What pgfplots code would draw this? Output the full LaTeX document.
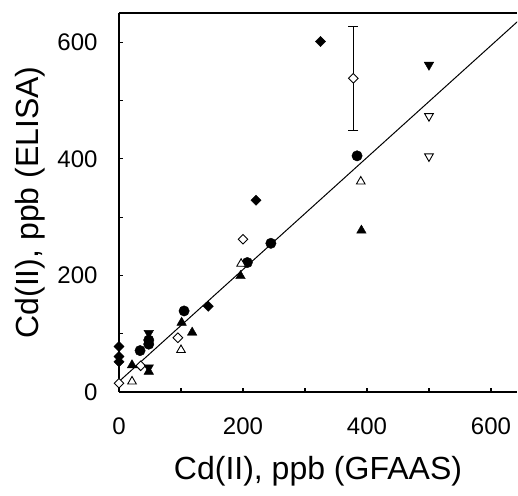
\documentclass[border=0pt]{standalone}
\usepackage{fontspec}
\setmainfont{Liberation Sans}
\usepackage{pgfplots}
\pgfplotsset{compat=1.18}

\begin{document}
\begin{tikzpicture}
\begin{axis}[
	name=ax,
	scale only axis,
	width=398bp, height=379bp,
	xmin=0, xmax=642, ymin=0, ymax=650,
	axis x line*=box, axis y line*=left,
	xtick={0,100,...,600}, xticklabels={0,,200,,400,,600},
	ytick={0,100,...,600}, yticklabels={0,,200,,400,,600},
	xtick pos=bottom, ytick pos=left,
	tick align=inside,
	major tick length=4bp,
	tick style={line width=1.1bp, black},
	axis line style={line width=1.3bp, black},
	tick label style={font=\fontsize{24bp}{28bp}\selectfont},
	label style={font=\fontsize{32bp}{36bp}\selectfont},
	xticklabel style={yshift=-22bp},
	yticklabel style={xshift=-18bp},
	xlabel={Cd(II), ppb (GFAAS)},
	ylabel={Cd(II), ppb (ELISA)},
	xlabel style={yshift=-15bp},
	ylabel style={yshift=5bp},
	clip=true,
]
% regression line
\addplot[black, line width=1bp, no marks] coordinates {(0,18) (680,671)};

% filled diamonds
\addplot[only marks, mark=square*, mark size=3.6bp, black,
	mark options={fill=black, rotate=45}]
	coordinates {(0,78) (0,61) (0,52) (144,147) (221,329) (325,601)};
% open diamonds
\addplot[only marks, mark=square*, mark size=3.4bp, black, line width=0.9bp,
	mark options={fill=white, rotate=45}]
	coordinates {(0,15) (35,45) (95,93) (200,262)};
\addplot[only marks, mark=square*, mark size=3.4bp, black, line width=0.9bp,
	mark options={fill=white, rotate=45},
	error bars/.cd, y dir=both, y explicit,
	error bar style={line width=1.1bp},
	error mark options={rotate=90, mark size=5bp, line width=1.1bp}]
	coordinates {(378,538) +- (0,89)};
% filled circles
\addplot[only marks, mark=*, mark size=5.2bp, black]
	coordinates {(34,71) (48,82) (48,89) (105,139) (207,222) (245,255) (384,405)};
% filled triangles
\addplot[only marks, mark=triangle*, mark size=5.5bp, black, mark options={fill=black}]
	coordinates {(21,46) (48,35) (101,119) (118,102) (196,199) (391,277)};
% open triangles
\addplot[only marks, mark=triangle*, mark size=5bp, black, line width=0.9bp,
	mark options={fill=white}]
	coordinates {(21,18) (100,72) (197,220) (390,361)};
% filled inverted triangles
\addplot[only marks, mark=triangle*, mark size=5.5bp, black,
	mark options={fill=black, rotate=180}]
	coordinates {(48,101) (48,42) (500,561)};
% open inverted triangles
\addplot[only marks, mark=triangle*, mark size=5bp, black, line width=0.9bp,
	mark options={fill=white, rotate=180}]
	coordinates {(500,473) (500,404)};
\end{axis}
\pgfresetboundingbox
\path (ax.south west) ++(-119bp,-104bp) coordinate (bl);
\path (ax.north west) ++(399bp,13bp) coordinate (tr);
\path (bl) rectangle (tr);
\end{tikzpicture}
\end{document}
